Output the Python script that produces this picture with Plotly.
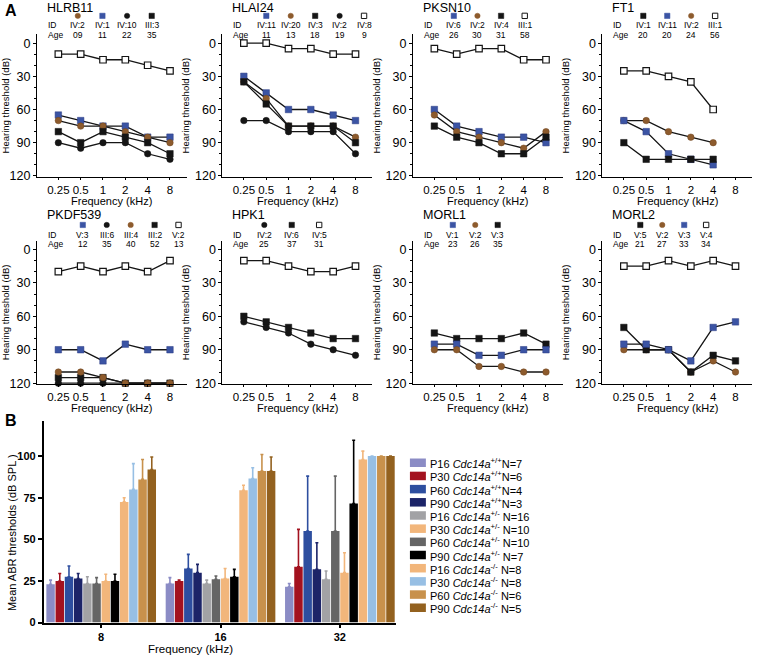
import plotly.graph_objects as go

W, H = 760, 662
FONT = "Liberation Sans, Arial, Helvetica, sans-serif"

FREQS = ["0.25", "0.5", "1", "2", "4", "8"]

# ---------------- Panel A data (hearing threshold, dB) ----------------
HLRB11_IDS = ["IV:2", "IV:1", "IV:10", "III:3"]
HLRB11_AGES = ["09", "11", "22", "35"]
HLRB11_KEYS = ["brown", "blue", "bcircle", "bsquare"]
HLRB11_OPEN = [10, 10, 15, 15, 20, 25]
HLRB11_IV1 = [65, 70, 75, 75, 85, 85]
HLRB11_IV2 = [70, 75, 75, 80, 85, 90]
HLRB11_III3 = [80, 90, 80, 85, 90, 100]
HLRB11_IV10 = [90, 95, 90, 90, 100, 105]

HLAI24_IDS = ["IV:11", "IV:20", "IV:3", "IV:2", "IV:8"]
HLAI24_AGES = ["11", "13", "18", "19", "9"]
HLAI24_KEYS = ["blue", "brown", "bsquare", "bcircle", "open"]
HLAI24_IV8 = [0, 0, 5, 5, 10, 10]
HLAI24_IV11 = [30, 45, 60, 60, 65, 70]
HLAI24_IV20 = [35, 50, 75, 75, 75, 85]
HLAI24_IV3 = [35, 55, 75, 75, 75, 90]
HLAI24_IV2 = [70, 70, 80, 80, 80, 100]

PKSN10_IDS = ["IV:6", "IV:2", "IV:4", "III:1"]
PKSN10_AGES = ["26", "30", "31", "58"]
PKSN10_KEYS = ["blue", "brown", "bsquare", "open"]
PKSN10_III1 = [5, 10, 5, 5, 15, 15]
PKSN10_IV6 = [60, 75, 80, 85, 85, 90]
PKSN10_IV2 = [65, 80, 85, 90, 95, 80]
PKSN10_IV4 = [75, 85, 90, 100, 100, 85]

FT1_IDS = ["IV:1", "IV:11", "IV:2", "III:1"]
FT1_AGES = ["20", "20", "24", "56"]
FT1_KEYS = ["bsquare", "blue", "brown", "open"]
FT1_III1 = [25, 25, 30, 35, 60, None]
FT1_IV2 = [70, 70, 80, 85, 90, None]
FT1_IV11 = [70, 80, 100, 105, 110, None]
FT1_IV1 = [90, 105, 105, 105, 105, None]

PKDF539_IDS = ["V:3", "III:6", "III:4", "III:2", "V:2"]
PKDF539_AGES = ["12", "35", "40", "52", "13"]
PKDF539_KEYS = ["blue", "bcircle", "brown", "bsquare", "open"]
PKDF539_V2 = [20, 15, 20, 15, 20, 10]
PKDF539_V3 = [90, 90, 100, 85, 90, 90]
PKDF539_III6 = [120, 120, 120, 120, 120, 120]
PKDF539_III2 = [115, 115, 115, 120, 120, 120]
PKDF539_III4 = [110, 110, 115, 120, 120, 120]

HPK1_IDS = ["IV:2", "IV:6", "IV:5"]
HPK1_AGES = ["25", "37", "31"]
HPK1_KEYS = ["bcircle", "bsquare", "open"]
HPK1_IV5 = [10, 10, 15, 20, 20, 15]
HPK1_IV6 = [60, 65, 70, 75, 80, 80]
HPK1_IV2 = [65, 70, 75, 85, 90, 95]

MORL1_IDS = ["V:1", "V:2", "V:3"]
MORL1_AGES = ["23", "26", "35"]
MORL1_KEYS = ["blue", "brown", "bsquare"]
MORL1_V3 = [75, 80, 80, 80, 75, 85]
MORL1_V1 = [85, 85, 95, 95, 90, 90]
MORL1_V2 = [90, 90, 105, 105, 110, 110]

MORL2_IDS = ["V:5", "V:2", "V:3", "V:4"]
MORL2_AGES = ["21", "27", "33", "34"]
MORL2_KEYS = ["bsquare", "brown", "blue", "open"]
MORL2_V4 = [15, 15, 10, 15, 10, 15]
MORL2_V2 = [90, 90, 90, 110, 100, 110]
MORL2_V5 = [70, 90, 90, 110, 95, 100]
MORL2_V3 = [85, 85, 90, 100, 70, 65]

# ---------------- Panel B data (mean ABR thresholds, dB SPL) ----------------
B_FREQS = ["8", "16", "32"]
B_NAMES = ["P16 <i>Cdc14a</i><sup>+/+</sup>N=7", "P30 <i>Cdc14a</i><sup>+/+</sup>N=6",
           "P60 <i>Cdc14a</i><sup>+/+</sup>N=4", "P90 <i>Cdc14a</i><sup>+/+</sup>N=3",
           "P16 <i>Cdc14a</i><sup>+/-</sup> N=16", "P30 <i>Cdc14a</i><sup>+/-</sup> N=10",
           "P60 <i>Cdc14a</i><sup>+/-</sup> N=10", "P90 <i>Cdc14a</i><sup>+/-</sup> N=7",
           "P16 <i>Cdc14a</i><sup>-/-</sup> N=8", "P30 <i>Cdc14a</i><sup>-/-</sup> N=8",
           "P60 <i>Cdc14a</i><sup>-/-</sup> N=6", "P90 <i>Cdc14a</i><sup>-/-</sup> N=5"]
B_COLORS = ["#8b8cc5", "#a3121f", "#2d4e9f", "#1c2468",
            "#a2a2a5", "#f2b67b", "#656565", "#000000",
            "#f2b67b", "#97bfe4", "#c8914c", "#93611f"]
P16_WT_MEAN = [23, 23.5, 21.5];   P16_WT_ERR = [2.5, 3.5, 2]
P30_WT_MEAN = [25, 25, 33.5];     P30_WT_ERR = [4.5, 0.5, 22.5]
P60_WT_MEAN = [27.5, 32.5, 55];   P60_WT_ERR = [6.5, 8.5, 33]
P90_WT_MEAN = [26.5, 30, 32];     P90_WT_ERR = [3, 5, 16]
P16_HET_MEAN = [23.5, 23.5, 26];  P16_HET_ERR = [4, 2, 5]
P30_HET_MEAN = [25, 26.5, 30];    P30_HET_ERR = [4, 6, 12]
P60_HET_MEAN = [23.5, 26, 55];    P60_HET_ERR = [3.5, 2, 33]
P90_HET_MEAN = [25, 27.5, 71.5];  P90_HET_ERR = [4, 4.5, 38]
P16_KO_MEAN = [72.5, 79.5, 98];   P16_KO_ERR = [2.5, 3, 5]
P30_KO_MEAN = [80, 86.5, 100];    P30_KO_ERR = [15.5, 6.5, 0]
P60_KO_MEAN = [86, 91, 100];      P60_KO_ERR = [12, 10, 0]
P90_KO_MEAN = [92, 91, 100];      P90_KO_ERR = [7.5, 8.5, 0]
B_MEANS = [P16_WT_MEAN, P30_WT_MEAN, P60_WT_MEAN, P90_WT_MEAN,
           P16_HET_MEAN, P30_HET_MEAN, P60_HET_MEAN, P90_HET_MEAN,
           P16_KO_MEAN, P30_KO_MEAN, P60_KO_MEAN, P90_KO_MEAN]
B_ERRS = [P16_WT_ERR, P30_WT_ERR, P60_WT_ERR, P90_WT_ERR,
          P16_HET_ERR, P30_HET_ERR, P60_HET_ERR, P90_HET_ERR,
          P16_KO_ERR, P30_KO_ERR, P60_KO_ERR, P90_KO_ERR]
B_BAR_ORDER = [0, 1, 2, 3, 4, 6, 5, 7, 8, 9, 10, 11]

PANELS = [
    ("HLRB11", HLRB11_IDS, HLRB11_AGES, HLRB11_KEYS,
     [("open", HLRB11_OPEN), ("blue", HLRB11_IV1), ("brown", HLRB11_IV2),
      ("bsquare", HLRB11_III3), ("bcircle", HLRB11_IV10)]),
    ("HLAI24", HLAI24_IDS, HLAI24_AGES, HLAI24_KEYS,
     [("open", HLAI24_IV8), ("blue", HLAI24_IV11), ("brown", HLAI24_IV20),
      ("bsquare", HLAI24_IV3), ("bcircle", HLAI24_IV2)]),
    ("PKSN10", PKSN10_IDS, PKSN10_AGES, PKSN10_KEYS,
     [("open", PKSN10_III1), ("blue", PKSN10_IV6), ("brown", PKSN10_IV2),
      ("bsquare", PKSN10_IV4)]),
    ("FT1", FT1_IDS, FT1_AGES, FT1_KEYS,
     [("open", FT1_III1), ("brown", FT1_IV2), ("blue", FT1_IV11), ("bsquare", FT1_IV1)]),
    ("PKDF539", PKDF539_IDS, PKDF539_AGES, PKDF539_KEYS,
     [("open", PKDF539_V2), ("blue", PKDF539_V3), ("bcircle", PKDF539_III6),
      ("bsquare", PKDF539_III2), ("brown", PKDF539_III4)]),
    ("HPK1", HPK1_IDS, HPK1_AGES, HPK1_KEYS,
     [("open", HPK1_IV5), ("bsquare", HPK1_IV6), ("bcircle", HPK1_IV2)]),
    ("MORL1", MORL1_IDS, MORL1_AGES, MORL1_KEYS,
     [("bsquare", MORL1_V3), ("blue", MORL1_V1), ("brown", MORL1_V2)]),
    ("MORL2", MORL2_IDS, MORL2_AGES, MORL2_KEYS,
     [("open", MORL2_V4), ("brown", MORL2_V2), ("bsquare", MORL2_V5), ("blue", MORL2_V3)]),
]

# ---------------- styles / layout geometry ----------------
BLACK = "#151515"
BLUE = "#3b54a4"
BROWN = "#8d5b2d"
STYLE = {
    "bsquare": dict(symbol="square", color=BLACK, line=dict(color=BLACK, width=0.5)),
    "blue": dict(symbol="square", color=BLUE, line=dict(color="#2a3a80", width=0.5)),
    "bcircle": dict(symbol="circle", color=BLACK, line=dict(color=BLACK, width=0.5)),
    "brown": dict(symbol="circle", color=BROWN, line=dict(color="#6e451f", width=0.5)),
    "open": dict(symbol="square", color="white", line=dict(color=BLACK, width=1.2)),
}
COL_LEFT = [35, 221, 412, 602]
PANEL_W = 150
ROW_TOP = [34.6, 242.7]
ROW_BOT = [178.6, 387.8]
ROW_TEXT_Y = [(8, 16, 25, 35), (217, 227, 237, 246)]
ROW_XTITLE_Y = [203, 412]
LEG_COLS = [(41, 24.7), (44, 24.5), (41, 23.7), (41, 24), (46, 24), (42, 27.5), (40, 22.5), (38, 22)]


def px(x):
    return x / W


def py(y):
    return 1 - y / H


fig = go.Figure()
shapes = []
annotations = []
layout = {}

for i, (title, ids, ages, keys, series) in enumerate(PANELS):
    r, c = divmod(i, 4)
    n = i + 1
    xa = "x" if n == 1 else f"x{n}"
    ya = "y" if n == 1 else f"y{n}"
    left = COL_LEFT[c]
    layout["xaxis" if n == 1 else f"xaxis{n}"] = dict(
        domain=[px(left), px(left + PANEL_W)], anchor=ya, type="category",
        categoryorder="array", categoryarray=FREQS, range=[-0.96, 5.74],
        showline=True, linecolor="black", linewidth=1, ticks="outside", ticklen=2,
        tickcolor="black", showgrid=False, zeroline=False, tickangle=0,
        tickfont=dict(size=11.5, color="black", family=FONT),
    )
    layout["yaxis" if n == 1 else f"yaxis{n}"] = dict(
        domain=[py(ROW_BOT[r]), py(ROW_TOP[r])], anchor=xa, range=[121, -8],
        tickvals=[0, 30, 60, 90, 120], showline=True, linecolor="black", linewidth=1,
        ticks="outside", ticklen=3, tickcolor="black", showgrid=False, zeroline=False,
        minor=dict(tick0=0, dtick=10, ticks="outside", ticklen=2, tickcolor="black", showgrid=False),
        tickfont=dict(size=12.5, color="black", family=FONT),
        title=dict(text="Hearing threshold (dB)", font=dict(size=9.5, color="black", family=FONT), standoff=3),
    )
    annotations.append(dict(x=px(left + PANEL_W / 2), y=py(ROW_XTITLE_Y[r]), xref="paper", yref="paper",
                            text="Frequency (kHz)", showarrow=False, xanchor="center", yanchor="middle",
                            font=dict(size=11, color="black", family=FONT)))
    for key, vals in series:
        st = STYLE[key]
        fig.add_trace(go.Scatter(
            x=FREQS, y=vals, xaxis=xa, yaxis=ya, mode="lines+markers",
            line=dict(color=BLACK, width=1.3), cliponaxis=False, showlegend=False,
            marker=dict(symbol=st["symbol"], size=6.5, color=st["color"], line=st["line"]),
        ))
    ty, my, iy, ay = ROW_TEXT_Y[r]
    annotations.append(dict(x=px(left + 8), y=py(ty), xref="paper", yref="paper", text=title,
                            showarrow=False, xanchor="left", yanchor="middle",
                            font=dict(size=12.5, color="black", family=FONT)))
    annotations.append(dict(x=px(left + 9), y=py(iy), xref="paper", yref="paper", text="ID",
                            showarrow=False, xanchor="left", yanchor="middle",
                            font=dict(size=8.5, color="black", family=FONT)))
    annotations.append(dict(x=px(left + 9), y=py(ay), xref="paper", yref="paper", text="Age",
                            showarrow=False, xanchor="left", yanchor="middle",
                            font=dict(size=8.5, color="black", family=FONT)))
    off, sp = LEG_COLS[i]
    for j, (pid, age, key) in enumerate(zip(ids, ages, keys)):
        cx = left + off + j * sp
        annotations.append(dict(x=px(cx), y=py(iy), xref="paper", yref="paper", text=pid,
                                showarrow=False, xanchor="center", yanchor="middle",
                                font=dict(size=8.5, color="black", family=FONT)))
        annotations.append(dict(x=px(cx), y=py(ay), xref="paper", yref="paper", text=age,
                                showarrow=False, xanchor="center", yanchor="middle",
                                font=dict(size=8.5, color="black", family=FONT)))
        st = STYLE[key]
        s = 2.7
        shapes.append(dict(type="circle" if st["symbol"] == "circle" else "rect",
                           xref="paper", yref="paper",
                           x0=px(cx - s), x1=px(cx + s), y0=py(my + s), y1=py(my - s),
                           fillcolor=st["color"],
                           line=dict(color=BLACK if key in ("open", "bsquare", "bcircle") else st["color"],
                                     width=1 if key == "open" else 0.5)))

# ---------------- Panel B ----------------
for k in B_BAR_ORDER:
    fig.add_trace(go.Bar(
        x=B_FREQS, y=B_MEANS[k], xaxis="x9", yaxis="y9", name=B_NAMES[k],
        marker=dict(color=B_COLORS[k], line=dict(width=0)), showlegend=False,
        error_y=dict(type="data", symmetric=False, array=B_ERRS[k], arrayminus=[0] * len(B_FREQS),
                     color=B_COLORS[k], thickness=1.6, width=1.5),
    ))

layout["xaxis9"] = dict(
    domain=[px(42), px(395)], anchor="y9", type="category", range=[-0.48, 2.47],
    showline=True, linecolor="black", linewidth=2, ticks="outside", ticklen=3, tickwidth=1.5,
    tickcolor="black", showgrid=False, zeroline=False, tickangle=0,
    tickfont=dict(size=11, color="black", family=FONT, weight="bold"),
)
layout["yaxis9"] = dict(
    domain=[py(628.3), py(425)], anchor="x9", range=[0, 121], tickvals=[0, 25, 50, 75, 100],
    showline=True, linecolor="black", linewidth=2, ticks="outside", ticklen=4, tickwidth=1.5,
    tickcolor="black", showgrid=False, zeroline=False,
    tickfont=dict(size=11, color="black", family=FONT, weight="bold"),
)
annotations.append(dict(x=px(189), y=py(655), xref="paper", yref="paper", text="Frequency (kHz)",
                        showarrow=False, xanchor="center", yanchor="middle",
                        font=dict(size=11.5, color="black", family=FONT)))
annotations.append(dict(x=px(10), y=py(537), xref="paper", yref="paper",
                        text="Mean ABR thresholds (dB SPL )", textangle=-90,
                        showarrow=False, xanchor="center", yanchor="middle",
                        font=dict(size=11, color="black", family=FONT)))

# manual legend for panel B
for k, (name, col) in enumerate(zip(B_NAMES, B_COLORS)):
    cy = 467 + k * 13.3
    shapes.append(dict(type="rect", xref="paper", yref="paper", x0=px(409), x1=px(425),
                       y0=py(cy + 4.3), y1=py(cy - 4.3), fillcolor=col, line=dict(width=0)))
    annotations.append(dict(x=px(427), y=py(cy + 0.5), xref="paper", yref="paper", text=name,
                            showarrow=False, xanchor="left", yanchor="middle",
                            font=dict(size=11, color="black", family=FONT)))

# panel letters
annotations.append(dict(x=px(1), y=py(11), xref="paper", yref="paper", text="<b>A</b>",
                        showarrow=False, xanchor="left", yanchor="middle",
                        font=dict(size=16, color="black", family=FONT)))
annotations.append(dict(x=px(1), y=py(424), xref="paper", yref="paper", text="<b>B</b>",
                        showarrow=False, xanchor="left", yanchor="middle",
                        font=dict(size=16, color="black", family=FONT)))

fig.update_layout(
    width=W, height=H, margin=dict(l=0, r=0, t=0, b=0),
    paper_bgcolor="white", plot_bgcolor="white",
    barmode="group", bargap=0.075, bargroupgap=0.08,
    shapes=shapes, annotations=annotations, showlegend=False,
    font=dict(family=FONT, color="black"),
    **layout,
)

fig.write_html("out.html", config={"displayModeBar": False},
               post_script="document.body.style.margin='0';document.body.style.overflow='hidden';")
